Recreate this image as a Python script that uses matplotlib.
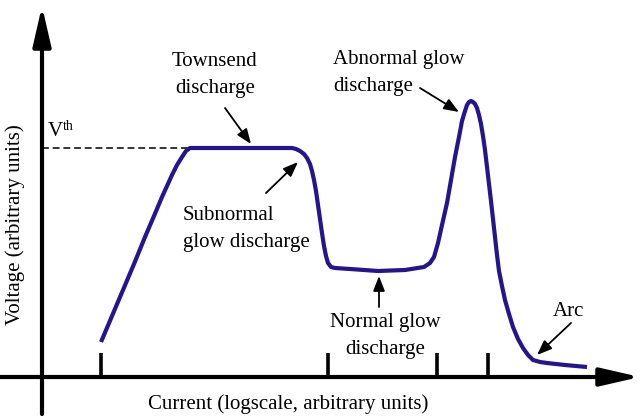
import matplotlib.pyplot as plt

# --- Data (pixel-space schematic) ---
# I-V curve of a gas discharge
curve_x = [101, 112, 123, 134, 145, 154, 162, 167, 172, 177, 182, 186, 190,
           240, 292, 296, 300, 304, 307, 310, 312, 314, 316, 318, 320, 322, 324, 326,
           328, 331, 335, 350, 378, 405, 424, 430, 434, 438, 442, 447, 451, 455, 459,
           462, 465, 467, 469, 471, 473, 475, 477, 479, 481, 483, 485, 487, 489, 491,
           493, 495, 497, 499, 502, 505, 509, 513, 518, 523, 528, 533, 540, 547, 565,
           587]
curve_y = [342, 316, 290, 264, 237, 216, 197, 186, 175, 165, 157, 151, 148,
           148, 148, 149, 151, 154, 158, 164, 171, 180, 191, 205, 219, 233, 246, 256,
           263, 267, 268, 269, 271, 270, 267, 263, 257, 243, 225, 203, 180, 157, 137,
           121, 111, 105, 102, 101, 102, 104, 108, 115, 124, 136, 150, 167, 184, 201,
           219, 237, 255, 271, 286, 300, 314, 327, 339, 348, 355, 360, 362, 363, 365,
           367]

tick_x = [101, 328, 437, 488]
vth_y = 148

labels = [
    ("Townsend\ndischarge", 215, 75, "center"),
    ("Abnormal glow\ndischarge", 333, 73, "left"),
    ("Subnormal\nglow discharge", 183, 229, "left"),
    ("Normal glow\ndischarge", 385, 336, "center"),
    ("Arc", 568, 311, "center"),
]
# (tail, head) of annotation arrows
arrows = [
    ((225, 108), (251, 144)),
    ((266, 193), (298, 162)),
    ((420, 88), (459, 112)),
    ((379, 307), (379, 276)),
    ((571, 323), (537, 355)),
]

# --- Plotting ---
plt.rcParams['font.family'] = ['Liberation Serif', 'DejaVu Serif']

fig = plt.figure(figsize=(6.43, 4.17), dpi=100)
ax = fig.add_axes([0, 0, 1, 1])
ax.set_xlim(0, 643)
ax.set_ylim(417, 0)
ax.axis('off')

# axes with arrow heads
axis_arrow = dict(arrowstyle='-|>,head_length=2.4,head_width=0.55',
                  lw=3, color='black', shrinkA=0, shrinkB=0, mutation_scale=10)
ax.annotate('', xy=(42, 6), xytext=(42, 414), arrowprops=axis_arrow)
ax.annotate('', xy=(640, 377), xytext=(0, 377), arrowprops=axis_arrow)

# tick marks on the current axis
ax.vlines(tick_x, 353, 377, color='black', lw=2.6)

# threshold voltage
ax.plot([42, curve_x[12]], [vth_y, vth_y], color='black', lw=1.1,
        linestyle=(0, (4.5, 2.5)))
ax.text(48, 136, 'V', fontsize=15, ha='left', va='baseline')
ax.text(63, 130, 'th', fontsize=10, ha='left', va='baseline')

# the curve
ax.plot(curve_x, curve_y, color='#24148f', lw=3, solid_capstyle='butt',
        solid_joinstyle='round')

for txt, x, y, ha in labels:
    ax.text(x, y, txt, fontsize=15, ha=ha, va='center', multialignment=ha,
            linespacing=1.55)

for (x0, y0), (x1, y1) in arrows:
    ax.annotate('', xy=(x1, y1), xytext=(x0, y0),
                arrowprops=dict(arrowstyle='-|>,head_length=0.9,head_width=0.35',
                                lw=1.3, color='black', shrinkA=0, shrinkB=0,
                                mutation_scale=10))

ax.text(288, 404, 'Current (logscale, arbitrary units)', fontsize=15,
        ha='center', va='center')
ax.text(15, 225, 'Voltage (arbitrary units)', fontsize=15, rotation=90,
        ha='center', va='center')

plt.savefig('out.png', dpi=100)
plt.close(fig)
